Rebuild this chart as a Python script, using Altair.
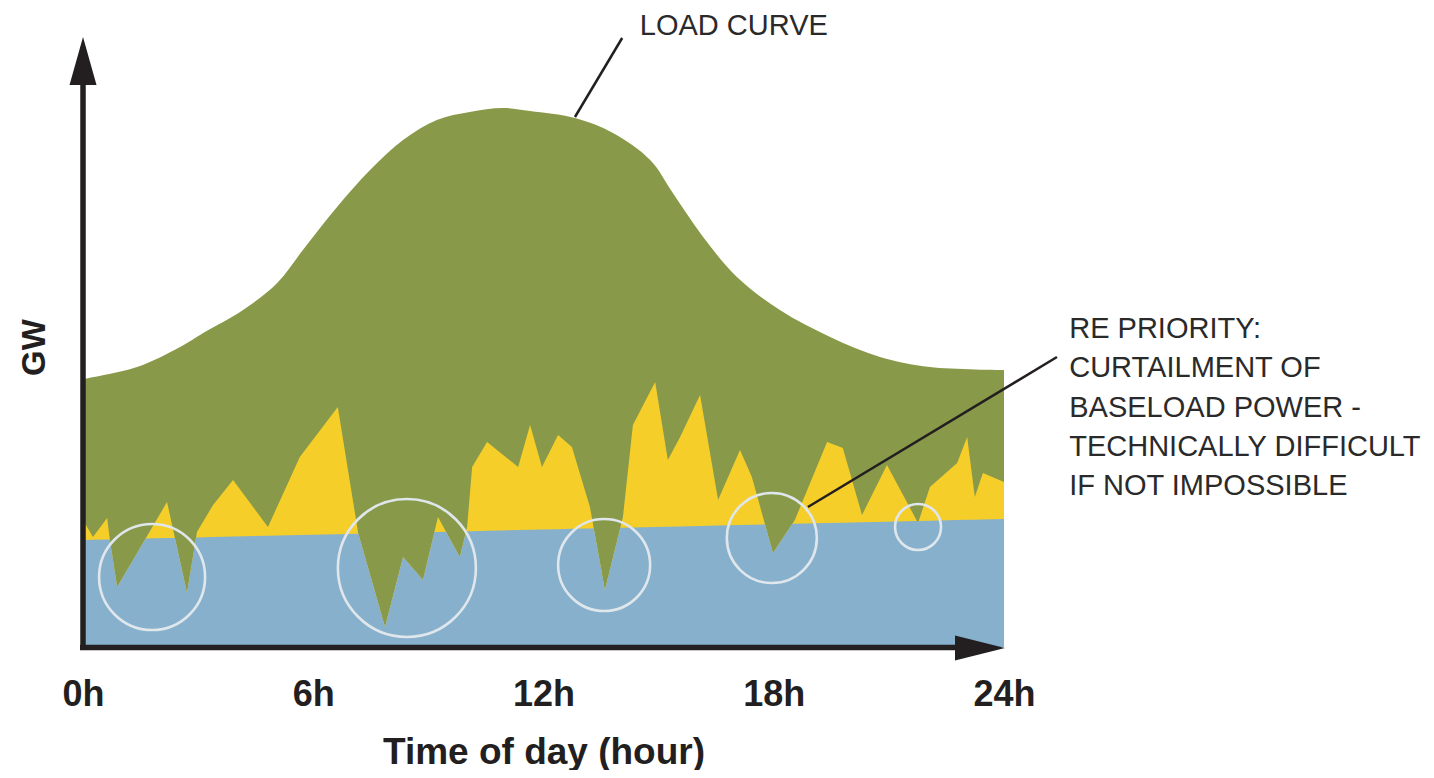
import altair as alt
import numpy as np
import pandas as pd

# ---------------- data ----------------
XMAX = 24
YMAX = 600

# load curve (hours, GW-units)
LOAD_H = [0, 1.41, 2.53, 3.13, 4.17, 5.06, 5.73, 6.62, 7.48, 8.34, 9.22, 10.08, 10.94,
          11.65, 12.82, 13.81, 14.78, 15.37, 16.16, 17.04, 18.16, 19.47, 20.77, 22.07, 24]
LOAD_V = [268, 280, 300, 314, 337, 364, 397, 440, 477, 507, 527, 535, 539,
          536, 529, 514, 487, 454, 410, 370, 337, 310, 290, 280, 277]

# baseload + renewable supply (jagged top of the yellow band)
RE_H = [0, 0.26, 0.63, 0.70, 0.89, 2.19, 2.71, 2.97, 3.39, 3.91, 4.82, 5.65, 6.64, 7.17,
        7.87, 8.34, 8.86, 9.25, 9.82, 10.01, 10.14, 10.53, 11.34, 11.65, 11.96, 12.38,
        12.74, 13.21, 13.60, 14.07, 14.33, 14.91, 15.24, 15.56, 16.08, 16.55, 17.12,
        17.43, 17.98, 18.55, 19.39, 19.80, 20.30, 20.95, 21.76, 22.07, 22.78, 23.04,
        23.24, 23.45, 24]
RE_V = [127, 110, 129, 107, 60, 145, 54, 115, 142, 167, 120, 190, 240, 114,
        20, 90, 67, 130, 90, 120, 180, 205, 180, 222, 180, 212,
        200, 140, 57, 130, 222, 265, 187, 210, 252, 147, 197,
        170, 94, 127, 205, 199, 132, 182, 124, 160, 184, 210,
        150, 174, 165]

# baseload level
BASE_H = [0, 24]
BASE_V = [107, 128]

# highlight circles (centre in data units, radius in px)
CIRC_H = [1.80, 8.44, 13.58, 17.95, 21.76]
CIRC_V = [70, 79, 82, 109, 120]
CIRC_R = [53, 69, 46, 45, 23]

# annotations
LOAD_LABEL = "LOAD CURVE"
LOAD_LABEL_H, LOAD_LABEL_V = 14.51, 612
LOAD_LEADER = (14.05, 609, 12.82, 530)

RE_LINES = ["RE PRIORITY:", "CURTAILMENT OF", "BASELOAD POWER -",
            "TECHNICALLY DIFFICULT", "IF NOT IMPOSSIBLE"]
RE_LABEL_H = 25.7
RE_LABEL_V = [309, 270, 230, 191, 152]
RE_LEADER = (25.38, 290, 18.89, 140)

TICKS = [0, 6, 12, 18, 24]

# ---------------- styling ----------------
GREEN = "#889a49"
YELLOW = "#f6ce2a"
BLUE = "#86b0cc"
DARK = "#231f20"
CIRCLE = "#dfe6ec"
FONT = "Liberation Sans"

# ---------------- derived tables ----------------
load_df = pd.DataFrame({"h": LOAD_H, "v": LOAD_V})
re_df = pd.DataFrame({"h": RE_H, "v": RE_V})

# blue band = min(baseload, supply), with crossing points inserted
rh = np.array(RE_H, float)
rv = np.array(RE_V, float)
rb = np.interp(rh, BASE_H, BASE_V)
bh, bv = [], []
for i in range(len(rh)):
    bh.append(rh[i]); bv.append(min(rv[i], rb[i]))
    if i < len(rh) - 1:
        d0 = rv[i] - rb[i]
        d1 = rv[i + 1] - rb[i + 1]
        if d0 * d1 < 0:
            t = d0 / (d0 - d1)
            hx = rh[i] + t * (rh[i + 1] - rh[i])
            bh.append(hx); bv.append(float(np.interp(hx, BASE_H, BASE_V)))
blue_df = pd.DataFrame({"h": bh, "v": bv})

circ_df = pd.DataFrame({"h": CIRC_H, "v": CIRC_V, "s": [(2 * r) ** 2 for r in CIRC_R]})

xscale = alt.Scale(domain=[0, XMAX], nice=False, zero=False)
yscale = alt.Scale(domain=[0, YMAX], nice=False, zero=False)

xaxis = alt.Axis(values=TICKS, labelExpr="datum.value + 'h'", domain=False, ticks=False,
                 grid=False, labelFont=FONT, labelFontSize=36, labelFontWeight="bold",
                 labelColor=DARK, labelPadding=30, labelFlush=False, labelOverlap=False,
                 title="Time of day (hour)", titleFont=FONT, titleFontSize=37,
                 titleFontWeight="bold", titleColor=DARK, titlePadding=22)
yaxis = alt.Axis(domain=False, ticks=False, labels=False, grid=False, title="GW",
                 titleFont=FONT, titleFontSize=33, titleFontWeight="bold",
                 titleColor=DARK, titlePadding=32)

X = alt.X("h:Q", scale=xscale, axis=xaxis)
Y = alt.Y("v:Q", scale=yscale, axis=yaxis)

green = alt.Chart(load_df).mark_area(color=GREEN, interpolate="catmull-rom", opacity=1).encode(x=X, y=Y)
yellow = alt.Chart(re_df).mark_area(color=YELLOW, interpolate="linear", opacity=1).encode(x=X, y=Y)
blue = alt.Chart(blue_df).mark_area(color=BLUE, interpolate="linear", opacity=1).encode(x=X, y=Y)

circles = alt.Chart(circ_df).mark_point(filled=False, shape="circle", stroke=CIRCLE,
                                        strokeWidth=2.6, opacity=1).encode(
    x=X, y=Y, size=alt.Size("s:Q", scale=None, legend=None))

# axis lines with arrow heads
xline = alt.Chart(pd.DataFrame({"h": [0], "h2": [XMAX], "v": [0]})).mark_rule(
    color=DARK, strokeWidth=5.5, xOffset=-3, x2Offset=-20, yOffset=0.5).encode(
    x=X, x2="h2:Q", y=Y)
yline = alt.Chart(pd.DataFrame({"h": [0], "v": [0], "v2": [YMAX]})).mark_rule(
    color=DARK, strokeWidth=5.5, yOffset=2.5).encode(x=X, y=Y, y2="v2:Q")
yhead = alt.Chart(pd.DataFrame({"h": [0], "v": [YMAX]})).mark_point(
    shape="M0,-1L0.5625,1L-0.5625,1Z", size=2304, filled=True, color=DARK,
    strokeWidth=0, opacity=1, yOffset=14).encode(x=X, y=Y)
xhead = alt.Chart(pd.DataFrame({"h": [XMAX], "v": [0]})).mark_point(
    shape="M1,0L-1,-0.5L-1,0.5Z", size=2500, filled=True, color=DARK,
    strokeWidth=0, opacity=1, xOffset=-24, yOffset=1).encode(x=X, y=Y)

# leader lines
lead_df = pd.DataFrame({"h": [LOAD_LEADER[0], RE_LEADER[0]], "v": [LOAD_LEADER[1], RE_LEADER[1]],
                        "h2": [LOAD_LEADER[2], RE_LEADER[2]], "v2": [LOAD_LEADER[3], RE_LEADER[3]]})
leaders = alt.Chart(lead_df).mark_rule(color=DARK, strokeWidth=2.5).encode(
    x=X, y=Y, x2="h2:Q", y2="v2:Q")

text_df = pd.DataFrame({"h": [LOAD_LABEL_H] + [RE_LABEL_H] * len(RE_LINES),
                        "v": [LOAD_LABEL_V] + RE_LABEL_V,
                        "t": [LOAD_LABEL] + RE_LINES})
texts = alt.Chart(text_df).mark_text(align="left", baseline="alphabetic", font=FONT,
                                     fontSize=29, color="#2a2a2a").encode(x=X, y=Y, text="t:N")

chart = alt.layer(green, yellow, blue, circles, leaders, xline, yline, yhead, xhead, texts).properties(
    width=921, height=600,
    background="white",
    autosize=alt.AutoSizeParams(type="none"),
    padding={"left": 75, "top": 39, "right": 422, "bottom": 123},
).configure_view(strokeWidth=0, stroke="transparent")

chart.save("out.html", embed_options={"renderer": "svg", "actions": False})
